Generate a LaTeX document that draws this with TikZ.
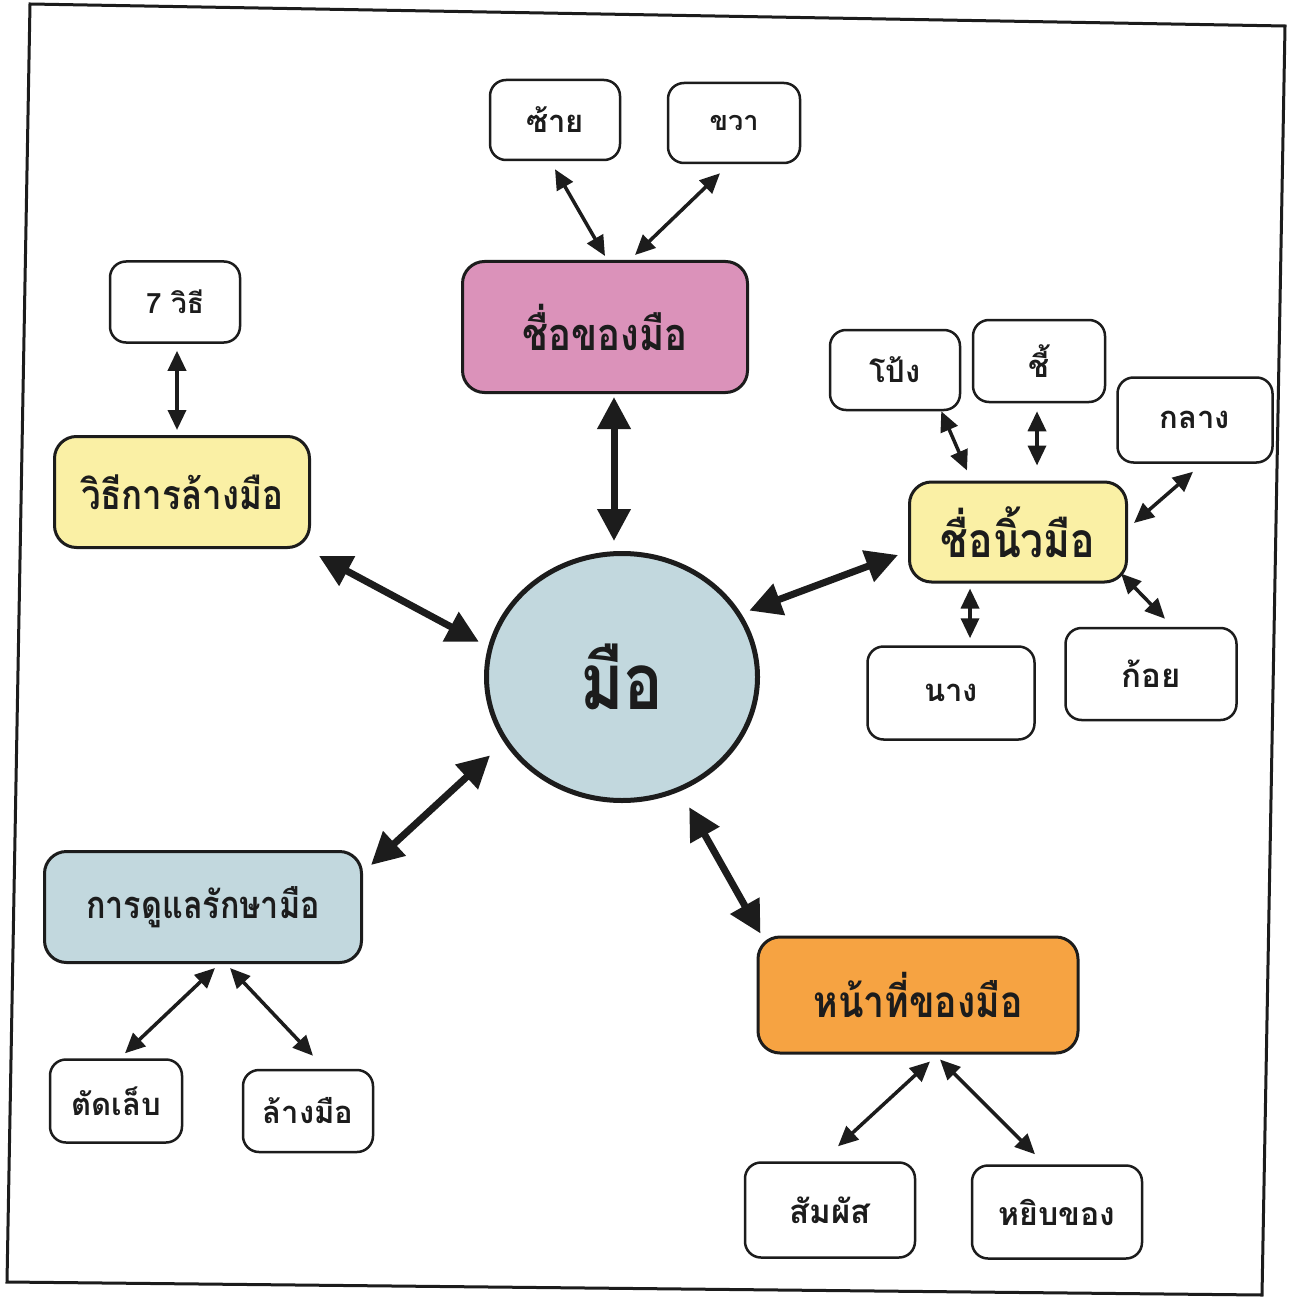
\documentclass[tikz,border=0pt]{standalone}
\usepackage{fontspec}
\newfontfamily\thai[Script=Thai]{Loma}
\newfontfamily\thaicond[Script=Thai,FakeStretch=0.85]{Loma}
\usetikzlibrary{arrows.meta,shapes.geometric}
\definecolor{pinkbox}{RGB}{219,146,186}
\definecolor{yellowbox}{RGB}{250,240,165}
\definecolor{bluebox}{RGB}{194,216,222}
\definecolor{orangebox}{RGB}{246,163,66}
\definecolor{ink}{RGB}{28,28,28}
\newcommand{\mfont}[1]{\thaicond\bfseries\fontsize{#1}{#1}\selectfont}
\begin{document}
\begin{tikzpicture}[x=1pt,y=-1pt,
  leaf/.style={draw=ink, line width=2.5pt, rounded corners=16pt, fill=white, text=ink,
    font=\thai\bfseries\fontsize{31}{36}\selectfont, inner sep=0pt},
  mainbox/.style={draw=ink, line width=3pt, rounded corners=22pt, text=ink, inner sep=0pt},
  ln/.style={draw=ink, line width=3.5pt, {Triangle[length=20pt,width=18pt]}-{Triangle[length=20pt,width=18pt]}},
  tk/.style={draw=ink, line width=7pt, {Triangle[length=32pt,width=32pt]}-{Triangle[length=32pt,width=32pt]}},
]
\useasboundingbox (0,0) rectangle (1293,1305);
\fill[white] (0,0) rectangle (1293,1305);
% frame
\draw[ink, line width=3pt] (30,4) -- (1285,26) -- (1262,1295) -- (7,1282) -- cycle;

% centre
\node[ellipse, draw=ink, line width=5pt, fill=bluebox, minimum width=271pt, minimum height=247pt,
  font=\mfont{78}, text=ink, inner sep=0pt] (hand) at (622,677) {มือ};

% top
\node[mainbox, fill=pinkbox, minimum width=285pt, minimum height=131pt, font=\mfont{45}] (name) at (605,327) {ชื่อของมือ};
\node[leaf, minimum width=130pt, minimum height=80pt] (left) at (555,120) {ซ้าย};
\node[leaf, minimum width=132pt, minimum height=80pt, font=\thai\bfseries\fontsize{27}{30}\selectfont] (right) at (734,123) {ขวา};

% left upper
\node[mainbox, fill=yellowbox, minimum width=255pt, minimum height=111pt, font=\mfont{41}] (wash) at (182,492) {วิธีการล้างมือ};
\node[leaf, minimum width=130pt, minimum height=81pt, font=\thai\bfseries\fontsize{28}{30}\selectfont] (seven) at (175,302) {7 วิธี};

% right
\node[mainbox, fill=yellowbox, minimum width=217pt, minimum height=100pt, font=\mfont{48}] (finger) at (1018,532) {ชื่อนิ้วมือ};
\node[leaf, minimum width=130pt, minimum height=80pt] (pong) at (895,370) {โป้ง};
\node[leaf, minimum width=132pt, minimum height=82pt] (chi) at (1039,361) {ชี้};
\node[leaf, minimum width=155pt, minimum height=85pt] (klang) at (1195,420) {กลาง};
\node[leaf, minimum width=167pt, minimum height=93pt] (nang) at (951,693) {นาง};
\node[leaf, minimum width=171pt, minimum height=92pt, font=\thai\bfseries\fontsize{33}{36}\selectfont] (koi) at (1151,674) {ก้อย};

% lower left
\node[mainbox, fill=bluebox, minimum width=317pt, minimum height=111pt, font=\mfont{38}] (care) at (203,907) {การดูแลรักษามือ};
\node[leaf, minimum width=132pt, minimum height=83pt] (nail) at (116,1101) {ตัดเล็บ};
\node[leaf, minimum width=130pt, minimum height=82pt] (handwash) at (308,1111) {ล้างมือ};

% lower right
\node[mainbox, fill=orangebox, minimum width=320pt, minimum height=116pt, font=\mfont{44}] (duty) at (918,995) {หน้าที่ของมือ};
\node[leaf, minimum width=170pt, minimum height=95pt, font=\thai\bfseries\fontsize{33}{36}\selectfont] (touch) at (830,1210) {สัมผัส};
\node[leaf, minimum width=170pt, minimum height=93pt, font=\thai\bfseries\fontsize{32}{36}\selectfont] (pick) at (1057,1212) {หยิบของ};

% connectors
\draw[ln] ([yshift=-8pt]left.south) -- ([yshift=4pt]name.north);
\draw[ln] ([xshift=-14pt,yshift=-9pt]right.south) -- ([xshift=30pt,yshift=5pt]name.north);
\draw[tk] ([xshift=9pt,yshift=-3pt]name.south) -- ([xshift=-8pt,yshift=10pt]hand.north);

\draw[ln] ([xshift=2pt,yshift=-7pt]seven.south) -- ([xshift=-5pt,yshift=5pt]wash.north);
\draw[tk] ([xshift=8pt,yshift=-7pt]wash.south east) -- ([xshift=-10pt,yshift=2pt]hand.166);

\draw[tk] ([xshift=-10pt,yshift=-23pt]finger.west) -- ([xshift=8pt,yshift=3pt]hand.28);
\draw[ln] ([xshift=-20pt]pong.south east) -- ([xshift=-51pt,yshift=10pt]finger.north);
\draw[ln] ([xshift=-2pt,yshift=-8pt]chi.south) -- ([xshift=19pt,yshift=15pt]finger.north);
\draw[ln] ([xshift=-2pt,yshift=-8pt]klang.south) -- ([xshift=6pt,yshift=9pt]finger.east);
\draw[ln] ([xshift=-7pt,yshift=10pt]finger.south east) -- ([xshift=14pt,yshift=8pt]koi.north);
\draw[ln] ([xshift=-48pt,yshift=-5pt]finger.south) -- ([xshift=19pt,yshift=7pt]nang.north);

\draw[tk] ([xshift=-14pt,yshift=-13pt]hand.209) -- ([xshift=8pt,yshift=-15pt]care.north east);
\draw[ln] ([xshift=12pt,yshift=-4pt]care.south) -- ([xshift=9pt,yshift=5pt]nail.north);
\draw[ln] ([xshift=27pt,yshift=-4pt]care.south) -- ([xshift=5pt,yshift=13pt]handwash.north);

\draw[tk] ([xshift=9pt,yshift=-16pt]hand.-63) -- ([xshift=4pt,yshift=2pt]duty.north west);
\draw[ln] ([xshift=12pt,yshift=-7pt]duty.south) -- ([xshift=8pt,yshift=15pt]touch.north);
\draw[ln] ([xshift=22pt,yshift=-5pt]duty.south) -- ([xshift=-22pt,yshift=10pt]pick.north);
\end{tikzpicture}
\end{document}
